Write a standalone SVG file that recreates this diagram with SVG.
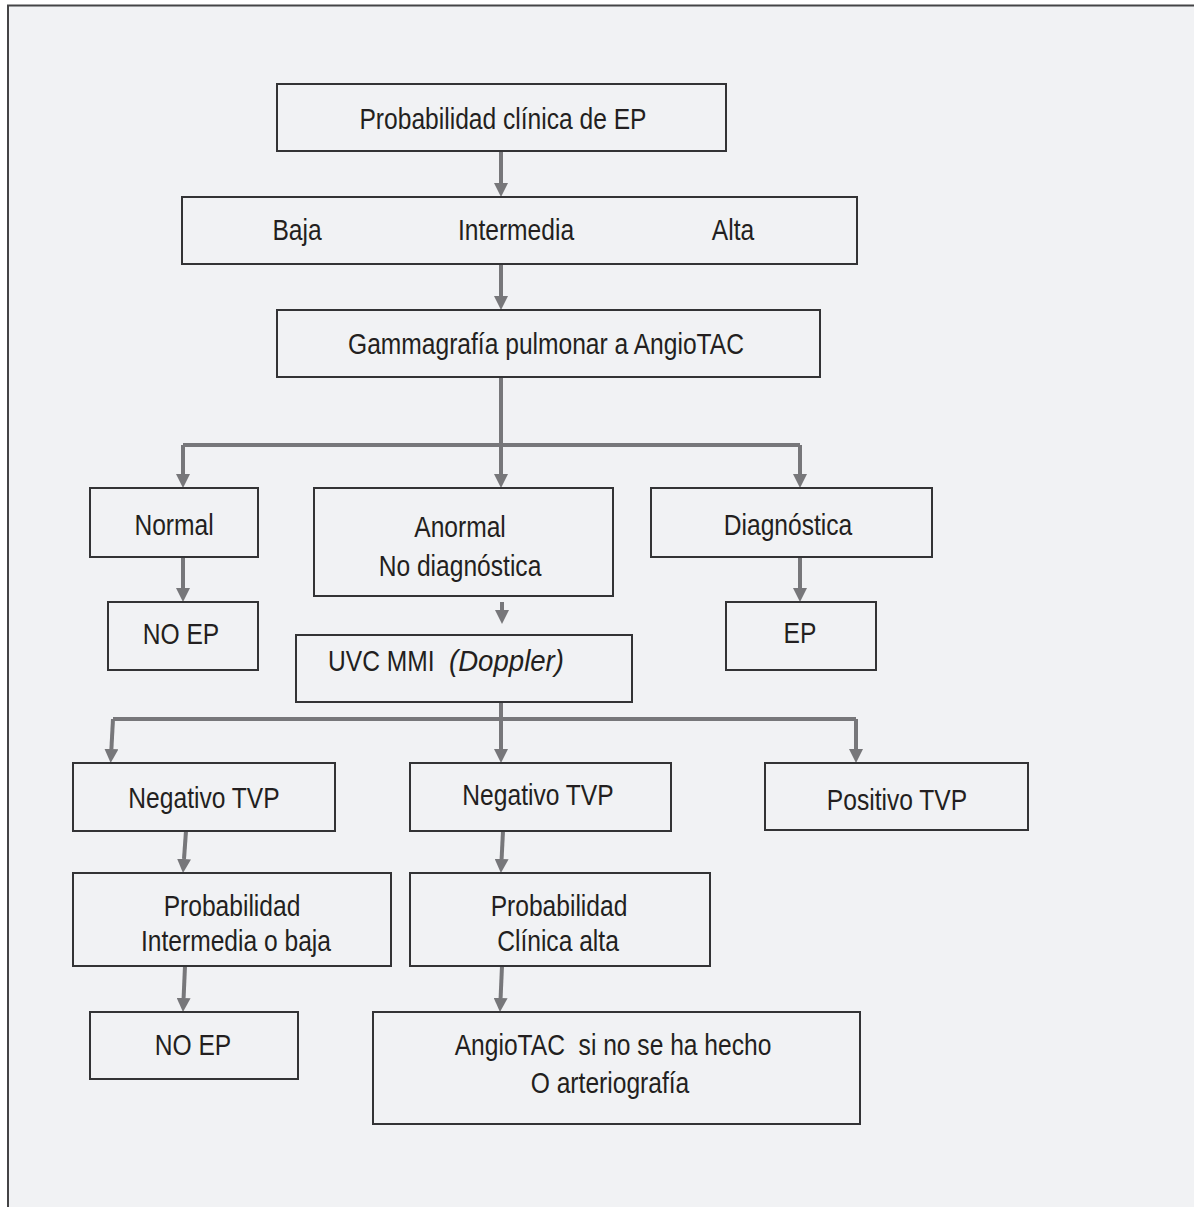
<svg xmlns="http://www.w3.org/2000/svg" width="1194" height="1207" viewBox="0 0 1194 1207">
<style>
.box{fill:none;stroke:#333335;stroke-width:2}
.t{font-family:"Liberation Sans",Arial,sans-serif;font-size:30px;fill:#231f20;text-anchor:middle}
.ts{text-anchor:start}
.c{fill:none;stroke:#77777a;stroke-width:4}
</style>
<defs>
<marker id="ah" markerUnits="userSpaceOnUse" markerWidth="14" markerHeight="14" refX="0" refY="7" orient="auto">
<path d="M0,0 L14,7 L0,14 z" fill="#77777a"/>
</marker>
</defs>
<rect x="0" y="0" width="1194" height="1207" fill="#ffffff"/>
<rect x="8" y="5" width="1186" height="1202" fill="#f1f2f4"/>
<path d="M8,1207 V5.5 H1194" fill="none" stroke="#444446" stroke-width="2"/>

<g id="connectors">
<line class="c" x1="501" y1="151" x2="501" y2="183" marker-end="url(#ah)"/>
<line class="c" x1="501" y1="264" x2="501" y2="296" marker-end="url(#ah)"/>
<path class="c" d="M501,377 V445"/>
<path class="c" d="M183,445 H800"/>
<line class="c" x1="183" y1="445" x2="183" y2="474" marker-end="url(#ah)"/>
<line class="c" x1="501" y1="445" x2="501" y2="474" marker-end="url(#ah)"/>
<line class="c" x1="800" y1="445" x2="800" y2="474" marker-end="url(#ah)"/>
<line class="c" x1="183" y1="557" x2="183" y2="588" marker-end="url(#ah)"/>
<line class="c" x1="800" y1="557" x2="800" y2="588" marker-end="url(#ah)"/>
<line class="c" x1="502" y1="602" x2="502" y2="610" marker-end="url(#ah)"/>
<path class="c" d="M501,702 V719"/>
<path class="c" d="M113,719 H856"/>
<line class="c" x1="113" y1="719" x2="111.4" y2="749" marker-end="url(#ah)"/>
<line class="c" x1="501" y1="719" x2="501" y2="749" marker-end="url(#ah)"/>
<line class="c" x1="856" y1="719" x2="856" y2="749" marker-end="url(#ah)"/>
<line class="c" x1="186" y1="831" x2="184" y2="859" marker-end="url(#ah)"/>
<line class="c" x1="503" y1="831" x2="501.6" y2="859" marker-end="url(#ah)"/>
<line class="c" x1="185" y1="966" x2="183.6" y2="998" marker-end="url(#ah)"/>
<line class="c" x1="502" y1="966" x2="500.6" y2="998" marker-end="url(#ah)"/>
</g>

<g id="n1"><rect class="box" x="277" y="84" width="449" height="67"/>
<text class="t" transform="translate(503,129) scale(0.82,1)">Probabilidad clínica de EP</text></g>

<g id="n2"><rect class="box" x="182" y="197" width="675" height="67"/>
<text class="t" transform="translate(297,240) scale(0.82,1)">Baja</text>
<text class="t" transform="translate(516,240) scale(0.82,1)">Intermedia</text>
<text class="t" transform="translate(733,240) scale(0.82,1)">Alta</text></g>

<g id="n3"><rect class="box" x="277" y="310" width="543" height="67"/>
<text class="t" transform="translate(546,354) scale(0.82,1)">Gammagrafía pulmonar a AngioTAC</text></g>

<g id="n4"><rect class="box" x="90" y="488" width="168" height="69"/>
<text class="t" transform="translate(174,535) scale(0.82,1)">Normal</text></g>

<g id="n5"><rect class="box" x="314" y="488" width="299" height="108"/>
<text class="t" transform="translate(460,537) scale(0.82,1)">Anormal</text>
<text class="t" transform="translate(460,576) scale(0.82,1)">No diagnóstica</text></g>

<g id="n6"><rect class="box" x="651" y="488" width="281" height="69"/>
<text class="t" transform="translate(788,535) scale(0.82,1)">Diagnóstica</text></g>

<g id="n7"><rect class="box" x="108" y="602" width="150" height="68"/>
<text class="t" transform="translate(181,644) scale(0.82,1)">NO EP</text></g>

<g id="n8"><rect class="box" x="726" y="602" width="150" height="68"/>
<text class="t" transform="translate(800,643) scale(0.82,1)">EP</text></g>

<g id="n9"><rect class="box" x="296" y="635" width="336" height="67"/>
<text class="t ts" transform="translate(328,671) scale(0.82,1)">UVC MMI</text>
<text class="t ts" font-style="italic" transform="translate(449,671) scale(0.92,1)">(Doppler)</text></g>

<g id="n10"><rect class="box" x="73" y="763" width="262" height="68"/>
<text class="t" transform="translate(204,808) scale(0.82,1)">Negativo TVP</text></g>

<g id="n11"><rect class="box" x="410" y="763" width="261" height="68"/>
<text class="t" transform="translate(538,805) scale(0.82,1)">Negativo TVP</text></g>

<g id="n12"><rect class="box" x="765" y="763" width="263" height="67"/>
<text class="t" transform="translate(897,810) scale(0.82,1)">Positivo TVP</text></g>

<g id="n13"><rect class="box" x="73" y="873" width="318" height="93"/>
<text class="t" transform="translate(232,916) scale(0.82,1)">Probabilidad</text>
<text class="t" transform="translate(236,951) scale(0.82,1)">Intermedia o baja</text></g>

<g id="n14"><rect class="box" x="410" y="873" width="300" height="93"/>
<text class="t" transform="translate(559,916) scale(0.82,1)">Probabilidad</text>
<text class="t" transform="translate(558,951) scale(0.82,1)">Clínica alta</text></g>

<g id="n15"><rect class="box" x="90" y="1012" width="208" height="67"/>
<text class="t" transform="translate(193,1055) scale(0.82,1)">NO EP</text></g>

<g id="n16"><rect class="box" x="373" y="1012" width="487" height="112"/>
<text class="t" xml:space="preserve" transform="translate(613,1055) scale(0.82,1)">AngioTAC  si no se ha hecho</text>
<text class="t" transform="translate(610,1093) scale(0.82,1)">O arteriografía</text></g>
</svg>
